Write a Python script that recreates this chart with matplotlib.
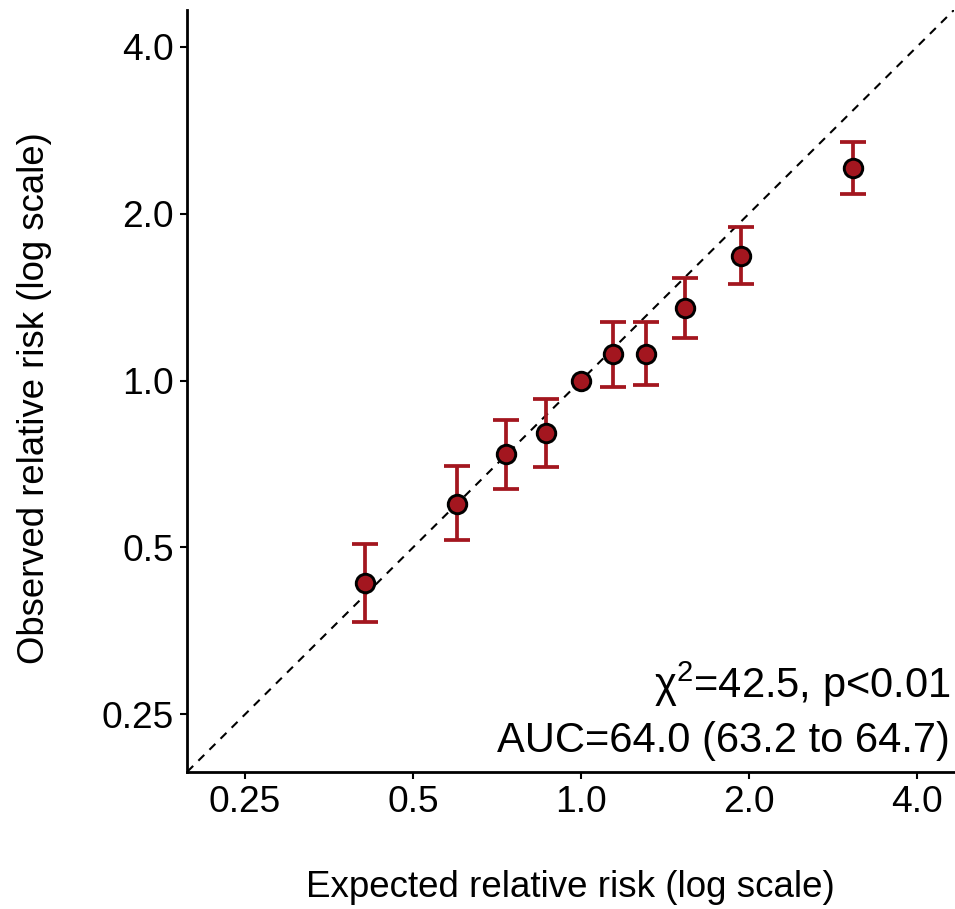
import matplotlib
matplotlib.use("Agg")
import matplotlib.pyplot as plt
import numpy as np

plt.rcParams['font.family'] = ['Liberation Sans', 'DejaVu Sans']
plt.rcParams['mathtext.fontset'] = 'custom'
plt.rcParams['mathtext.rm'] = 'Liberation Sans'
plt.rcParams['mathtext.it'] = 'Liberation Sans:italic'

# Data
expected = [0.410, 0.600, 0.734, 0.867, 1.000, 1.141, 1.309, 1.539, 1.933, 3.067]
observed = [0.431, 0.600, 0.737, 0.803, 1.000, 1.116, 1.116, 1.350, 1.677, 2.414]
ci_low   = [0.367, 0.515, 0.637, 0.697, np.nan, 0.975, 0.980, 1.192, 1.493, 2.167]
ci_high  = [0.507, 0.700, 0.849, 0.926, np.nan, 1.275, 1.275, 1.529, 1.889, 2.696]
ticks = [0.25, 0.5, 1.0, 2.0, 4.0]
tick_labels = ["0.25", "0.5", "1.0", "2.0", "4.0"]
annot1 = r"$\mathregular{\chi^2}$=42.5, p<0.01"
annot2 = "AUC=64.0 (63.2 to 64.7)"

red = '#A3161F'

fig = plt.figure(figsize=(9.55, 9.09), dpi=100)
ax = fig.add_axes([0.1961, 0.1510, 0.8028, 0.838])
ax.set_xscale('log')
ax.set_yscale('log')
ax.set_xlim(0.197, 4.66)
ax.set_ylim(0.197, 4.66)

ax.axline((1, 1), (2, 2), color='black', lw=1.5, ls=(0, (4, 3.5)), zorder=1)

exp = np.array(expected)
obs = np.array(observed)
lo = np.array(ci_low)
hi = np.array(ci_high)
mask = ~np.isnan(lo)
ax.errorbar(exp[mask], obs[mask], yerr=[obs[mask] - lo[mask], hi[mask] - obs[mask]],
            fmt='none', ecolor=red, elinewidth=2.7, capsize=9.3, capthick=2.7, zorder=2)
ax.plot(exp, obs, 'o', ms=13.3, mfc=red, mec='black', mew=2.1, zorder=3)

ax.set_xticks(ticks)
ax.set_xticklabels(tick_labels)
ax.set_yticks(ticks)
ax.set_yticklabels(tick_labels)
ax.minorticks_off()
ax.tick_params(axis='both', which='major', labelsize=26.7, length=5.2, width=1.5,
               direction='out', colors='black', pad=4.5)

for s in ['top', 'right']:
    ax.spines[s].set_visible(False)
for s in ['left', 'bottom']:
    ax.spines[s].set_linewidth(2)

ax.set_xlabel("Expected relative risk (log scale)", fontsize=26.5, labelpad=36)
ax.set_ylabel("Observed relative risk (log scale)", fontsize=26.3)
ax.yaxis.set_label_coords(-0.176, 0.49)

ax.text(0.995, 0.0968, annot1, transform=ax.transAxes, ha='right', va='baseline', fontsize=30)
ax.text(0.995, 0.0259, annot2, transform=ax.transAxes, ha='right', va='baseline', fontsize=30)

fig.savefig('out.png', dpi=100)
